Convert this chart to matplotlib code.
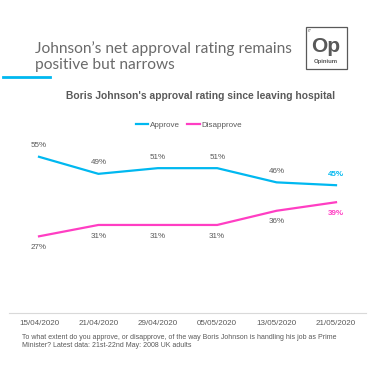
import matplotlib.pyplot as plt
from matplotlib.patches import Rectangle
from matplotlib.lines import Line2D

# Data
dates = ["15/04/2020", "21/04/2020", "29/04/2020", "05/05/2020", "13/05/2020", "21/05/2020"]
approve = [55, 49, 51, 51, 46, 45]
disapprove = [27, 31, 31, 31, 36, 39]

BLUE = "#00B8F0"
PINK = "#FF3EC3"
GREY = "#595959"

plt.rcParams['font.family'] = ['Liberation Sans', 'DejaVu Sans']

fig = plt.figure(figsize=(3.75, 3.69), dpi=100)
W, H = 375, 369

def fx(px):
    return px / W

def fy(py):
    return 1 - py / H

# main axes: x from 9.3 to 365.7 px, y from 142.6 to 313 px
ax = fig.add_axes([fx(9.3), fy(313), fx(365.7) - fx(9.3), fy(142.6) - fy(313)])
x = list(range(len(dates)))
ax.plot(x, approve, color=BLUE, lw=1.6, solid_joinstyle='round')
ax.plot(x, disapprove, color=PINK, lw=1.6, solid_joinstyle='round')
ax.set_xlim(-0.5, 5.5)
ax.set_ylim(0, 60)

for i, v in enumerate(approve):
    last = i == len(approve) - 1
    ax.annotate(f"{v}%", (i, v), xytext=(0, 8), textcoords='offset points',
                ha='center', va='center', fontsize=5.8,
                color=BLUE if last else GREY, fontweight='bold' if last else 'normal')
for i, v in enumerate(disapprove):
    last = i == len(disapprove) - 1
    ax.annotate(f"{v}%", (i, v), xytext=(0, -8), textcoords='offset points',
                ha='center', va='center', fontsize=5.8,
                color=PINK if last else GREY, fontweight='bold' if last else 'normal')

ax.set_xticks(x)
ax.set_xticklabels(dates, fontsize=5.8, color=GREY)
ax.set_yticks([])
ax.tick_params(axis='x', length=0, pad=5)
for s in ['top', 'right', 'left']:
    ax.spines[s].set_visible(False)
ax.spines['bottom'].set_color('#D9D9D9')
ax.spines['bottom'].set_linewidth(0.8)

# legend
handles = [Line2D([], [], color=BLUE, lw=1.6), Line2D([], [], color=PINK, lw=1.6)]
fig.legend(handles, ["Approve", "Disapprove"], loc='center', bbox_to_anchor=(fx(189), fy(125.5)),
           ncol=2, frameon=False, fontsize=5.8, labelcolor=GREY, handlelength=1.6,
           handletextpad=0.2, columnspacing=0.9)

# chart title
fig.text(fx(201), fy(96), "Boris Johnson's approval rating since leaving hospital",
         ha='center', va='center', fontsize=7.4, fontweight='bold', color=GREY)

# header
fig.text(fx(35), fy(49), "Johnson\u2019s net approval rating remains", ha='left', va='center',
         fontsize=11.2, color="#6A6A6A", family=['Lato', 'DejaVu Sans'])
fig.text(fx(35), fy(65.5), "positive but narrows", ha='left', va='center',
         fontsize=11.2, color="#6A6A6A", family=['Lato', 'DejaVu Sans'])
fig.add_artist(Line2D([fx(3), fx(50)], [fy(77), fy(77)], color=BLUE, lw=2))

# logo
fig.add_artist(Rectangle((fx(305.5), fy(68.5)), fx(41), fy(27.5) - fy(68.5),
                         fill=False, edgecolor=GREY, lw=0.9))
fig.text(fx(326), fy(46), "Op", ha='center', va='center', fontsize=15,
         fontweight='bold', color=GREY)
fig.text(fx(326), fy(62), "Opinium", ha='center', va='center', fontsize=4.3,
         fontweight='bold', color=GREY)
fig.text(fx(308), fy(31), "67", ha='left', va='center', fontsize=2.5, color=GREY)

# footnote
fig.text(fx(22), fy(337.5), "To what extent do you approve, or disapprove, of the way Boris Johnson is handling his job as Prime",
         ha='left', va='center', fontsize=5.0, color=GREY)
fig.text(fx(22), fy(345.5), "Minister? Latest data: 21st-22nd May: 2008 UK adults",
         ha='left', va='center', fontsize=5.0, color=GREY)

fig.savefig("out.png", dpi=100)
